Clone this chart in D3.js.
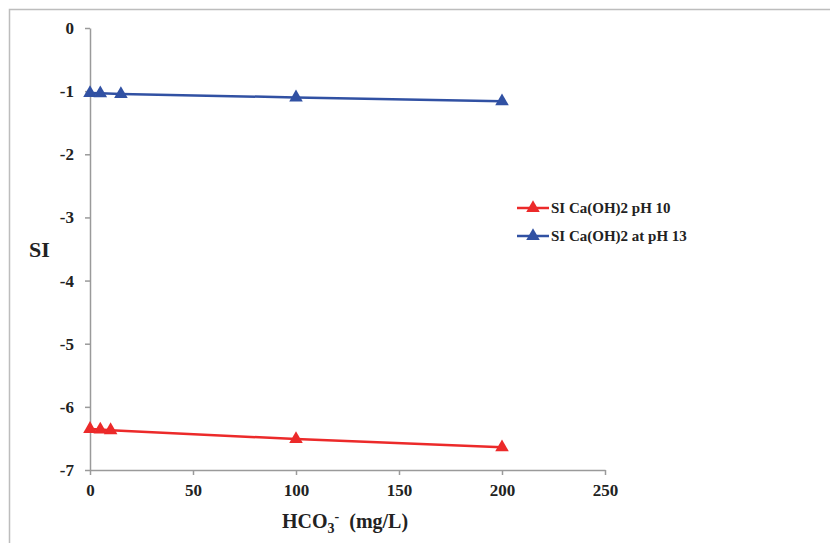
<!DOCTYPE html>
<html lang="en">
<head>
  <meta charset="UTF-8">
  <title>SI Ca(OH)2 vs HCO3-</title>
  <style>
    body{ margin: 0; background: #fff; }
    text{ font-family: "Liberation Serif", "DejaVu Serif", serif; font-weight: bold; fill: #222; }
    .axis path, .axis line{ stroke: #9a9a9a; stroke-width: 1.5px; }
    .series{ fill: none; stroke-width: 2.5px; }
  </style>
</head>
<body>
  <script src="https://cdn.jsdelivr.net/npm/d3@7/dist/d3.min.js"></script>
  <script>
    // values
    const xTicks = [0, 50, 100, 150, 200, 250];
    const yTicks = [0, -1, -2, -3, -4, -5, -6, -7];
    const ph10X = [0, 5, 10, 100, 200];
    const ph10Y = [-6.35, -6.36, -6.37, -6.51, -6.64];
    const ph13X = [0, 5, 15, 100, 200];
    const ph13Y = [-1.03, -1.035, -1.045, -1.1, -1.16];
    const seriesNames = ['SI Ca(OH)2 pH 10', 'SI Ca(OH)2 at pH 13'];
    const seriesColors = ['#ec2a2a', '#3151a3'];

    const width = 830, height = 543;
    const x = d3.scaleLinear().domain([0, 250]).range([90, 605]);
    const y = d3.scaleLinear().domain([-7, 0]).range([470, 28]);

    const svg = d3.select('body').append('svg')
      .attr('width', width)
      .attr('height', height);

    // outer chart frame (runs off the right and bottom edges)
    svg.append('rect')
      .attr('x', 9.5).attr('y', 9.5)
      .attr('width', 840).attr('height', 560)
      .attr('fill', 'none')
      .attr('stroke', '#bdbdbd')
      .attr('stroke-width', 1.5);

    const xAxis = svg.append('g')
      .attr('class', 'axis')
      .attr('transform', 'translate(0,' + y(-7) + ')')
      .call(d3.axisBottom(x).tickValues(xTicks).tickSize(5).tickPadding(9).tickSizeOuter(0));
    xAxis.selectAll('text').style('font-size', '17px');

    const yAxis = svg.append('g')
      .attr('class', 'axis')
      .attr('transform', 'translate(' + x(0) + ',0)')
      .call(d3.axisLeft(y).tickValues(yTicks).tickSize(5).tickPadding(11).tickSizeOuter(0)
        .tickFormat(d => String(d)));
    yAxis.selectAll('text').style('font-size', '17px');

    // axis titles
    svg.append('text')
      .attr('x', 29).attr('y', 257)
      .style('font-size', '22px')
      .text('SI');

    const xt = svg.append('text')
      .attr('x', 282).attr('y', 528)
      .style('font-size', '20px');
    xt.append('tspan').text('HCO');
    xt.append('tspan').attr('dy', 5).style('font-size', '14px').text('3');
    xt.append('tspan').attr('dy', -12).style('font-size', '14px').text('-');
    xt.append('tspan').attr('dy', 7).text('\u00a0 (mg/L)');

    const series = [
      ph10X.map((d, i) => ({x: d, y: ph10Y[i]})),
      ph13X.map((d, i) => ({x: d, y: ph13Y[i]}))
    ];
    const line = d3.line().x(d => x(d.x)).y(d => y(d.y));
    const tri = d3.symbol().type(d3.symbolTriangle).size(80);

    series.forEach(function(s, i){
      svg.append('path')
        .attr('class', 'series')
        .attr('stroke', seriesColors[i])
        .attr('d', line(s));
      svg.selectAll('path.m' + i)
        .data(s)
        .enter()
        .append('path')
        .attr('class', 'm' + i)
        .attr('fill', seriesColors[i])
        .attr('transform', d => 'translate(' + x(d.x) + ',' + y(d.y) + ')')
        .attr('d', tri);
    });

    // legend
    const legend = svg.append('g').attr('transform', 'translate(517,208)');
    seriesNames.forEach(function(name, i){
      const g = legend.append('g').attr('transform', 'translate(0,' + i * 28 + ')');
      g.append('line')
        .attr('x1', 0).attr('x2', 32)
        .attr('stroke', seriesColors[i]).attr('stroke-width', 2.5);
      g.append('path')
        .attr('transform', 'translate(16,0)')
        .attr('fill', seriesColors[i])
        .attr('d', tri);
      g.append('text')
        .attr('x', 34).attr('y', 5)
        .style('font-size', '15px')
        .text(name);
    });
  </script>
</body>
</html>
